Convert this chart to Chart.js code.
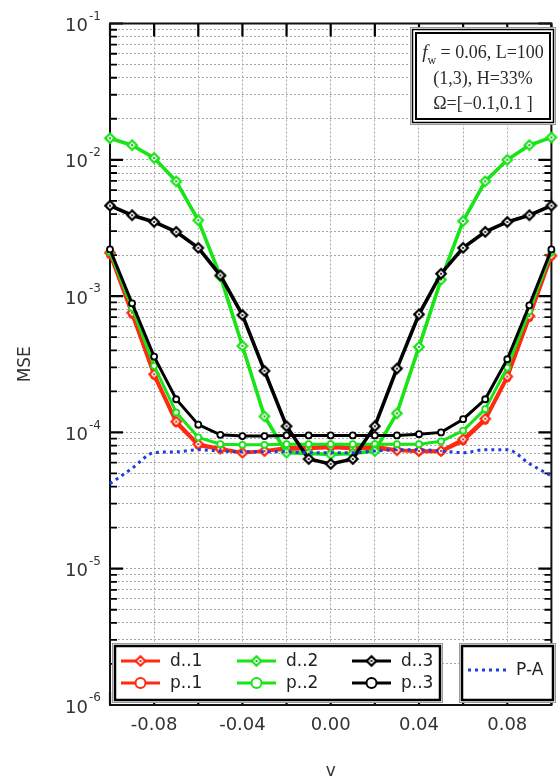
<!DOCTYPE html>
<html><head><meta charset="utf-8">
<script src="https://cdn.jsdelivr.net/npm/chart.js@4"></script>
<style>html,body{margin:0;padding:0;background:#fff;}canvas{display:block;}</style>
</head><body>
<canvas id="c" width="560" height="780" style="width:560px;height:780px"></canvas>
<script>
// ---------- data ----------
const xValues = [-0.10,-0.09,-0.08,-0.07,-0.06,-0.05,-0.04,-0.03,-0.02,-0.01,0.00,0.01,0.02,0.03,0.04,0.05,0.06,0.07,0.08,0.09,0.10];
const d1 = [2.08e-3,7.55e-4,2.67e-4,1.20e-4,8.2e-5,7.6e-5,7.1e-5,7.3e-5,7.7e-5,7.7e-5,7.9e-5,7.7e-5,7.9e-5,7.4e-5,7.3e-5,7.3e-5,8.9e-5,1.26e-4,2.57e-4,7.14e-4,1.98e-3];
const p1 = [2.00e-3,7.3e-4,2.6e-4,1.17e-4,8.0e-5,7.5e-5,7.1e-5,7.3e-5,7.5e-5,7.6e-5,7.7e-5,7.6e-5,7.6e-5,7.4e-5,7.2e-5,7.2e-5,8.6e-5,1.22e-4,2.5e-4,6.9e-4,1.95e-3];
const d2 = [1.44e-2,1.28e-2,1.03e-2,6.95e-3,3.6e-3,1.40e-3,4.31e-4,1.31e-4,7.1e-5,7.0e-5,6.9e-5,7.0e-5,7.3e-5,1.38e-4,4.24e-4,1.32e-3,3.55e-3,6.95e-3,1.0e-2,1.28e-2,1.46e-2];
const p2 = [2.1e-3,8.2e-4,3.08e-4,1.40e-4,9.2e-5,8.2e-5,8.1e-5,8.1e-5,8.2e-5,8.2e-5,8.2e-5,8.2e-5,8.2e-5,8.2e-5,8.2e-5,8.6e-5,1.03e-4,1.48e-4,2.99e-4,7.76e-4,2.1e-3];
const d3 = [4.61e-3,3.92e-3,3.50e-3,2.96e-3,2.26e-3,1.42e-3,7.26e-4,2.83e-4,1.11e-4,6.38e-5,5.87e-5,6.38e-5,1.11e-4,2.94e-4,7.35e-4,1.46e-3,2.26e-3,2.96e-3,3.50e-3,3.92e-3,4.61e-3];
const p3 = [2.2e-3,8.85e-4,3.6e-4,1.75e-4,1.14e-4,9.6e-5,9.4e-5,9.4e-5,9.5e-5,9.5e-5,9.5e-5,9.5e-5,9.5e-5,9.5e-5,9.7e-5,1.0e-4,1.25e-4,1.75e-4,3.44e-4,8.55e-4,2.2e-3];
const pa = [4.2e-5,5.45e-5,7.1e-5,7.2e-5,7.46e-5,7.3e-5,7.2e-5,7.2e-5,7.2e-5,7.1e-5,7.1e-5,7.1e-5,7.3e-5,7.46e-5,7.46e-5,7.3e-5,7.1e-5,7.46e-5,7.46e-5,5.9e-5,4.8e-5];

const seriesNames = ['d..1','p..1','d..2','p..2','d..3','p..3','P-A'];
const xTickValues = [-0.08,-0.04,0.00,0.04,0.08];
const xTickLabels = ['-0.08','-0.04','0.00','0.04','0.08'];
const xGridValues = [-0.10,-0.08,-0.06,-0.04,-0.02,0.00,0.02,0.04,0.06,0.08,0.10];
const yTickValues = [1e-6,1e-5,1e-4,1e-3,1e-2,1e-1];
const yTickExponents = ['-6','-5','-4','-3','-2','-1'];
const yMantissas = [1,2,3,4,5,6,7,8,9];
const xTitle = 'v';
const yTitle = 'MSE';
const annotationLines = ['= 0.06, L=100','(1,3), H=33%','\u03A9=[\u22120.1,0.1 ]'];

// ---------- styles ----------
const RED = '#ff2a10', GREEN = '#18e418', BLACK = '#000000', BLUE = '#1e3ee0';
const SANS = '"DejaVu Sans", Verdana, sans-serif';
const SERIF = '"Liberation Serif", "Times New Roman", serif';

function diamondImg(color, dot) {
  const c = document.createElement('canvas');
  c.width = 16; c.height = 16;
  const g = c.getContext('2d');
  g.beginPath(); g.moveTo(8, 3.3); g.lineTo(12.7, 8); g.lineTo(8, 12.7); g.lineTo(3.3, 8); g.closePath();
  g.fillStyle = '#fff'; g.fill();
  g.lineWidth = 2.3; g.strokeStyle = color; g.stroke();
  g.beginPath(); g.arc(8, 8, 1.1, 0, Math.PI * 2); g.fillStyle = dot; g.fill();
  return c;
}
const diaR = diamondImg(RED, '#a01808');
const diaG = diamondImg(GREEN, '#0a8a0a');
const diaK = diamondImg(BLACK, '#000');

const yGridValues = [];
for (let e = -6; e <= -2; e++) for (const m of yMantissas) yGridValues.push(m * Math.pow(10, e));
yGridValues.push(1e-1);

function pts(arr) { return xValues.map((x, i) => ({x: x, y: arr[i]})); }

function dDs(label, arr, color, img, order) {
  return {label, data: pts(arr), borderColor: color, backgroundColor: '#fff', borderWidth: 3.6,
    pointStyle: img, pointRadius: 5, order, clip: false, tension: 0};
}
function pDs(label, arr, color, order) {
  return {label, data: pts(arr), borderColor: color, backgroundColor: '#fff', borderWidth: 3,
    pointStyle: 'circle', pointRadius: 3, pointBorderWidth: 1.8, pointBackgroundColor: '#fff',
    pointBorderColor: color, order, clip: false, tension: 0};
}

const datasets = [
  dDs(seriesNames[0], d1, RED, diaR, 6),
  pDs(seriesNames[1], p1, RED, 7),
  dDs(seriesNames[2], d2, GREEN, diaG, 4),
  pDs(seriesNames[3], p2, GREEN, 5),
  dDs(seriesNames[4], d3, BLACK, diaK, 2),
  pDs(seriesNames[5], p3, BLACK, 3),
  {label: seriesNames[6], data: pts(pa), borderColor: BLUE, borderWidth: 3, borderDash: [3, 4],
   pointRadius: 0, order: 1, clip: false, tension: 0.3, cubicInterpolationMode: 'monotone'}
];

function legendMarker(ctx, kind, color, img, x, y) {
  if (kind === 'd') {
    ctx.drawImage(img, x - 8, y - 8, 16, 16);
  } else {
    ctx.beginPath(); ctx.arc(x, y, 5, 0, Math.PI * 2);
    ctx.fillStyle = '#fff'; ctx.fill();
    ctx.lineWidth = 2; ctx.strokeStyle = color; ctx.stroke();
  }
}
function legendBox(ctx, x0, y0, x1, y1) {
  ctx.save();
  ctx.fillStyle = '#fff'; ctx.fillRect(x0, y0, x1 - x0, y1 - y0);
  ctx.strokeStyle = '#999'; ctx.lineWidth = 1; ctx.strokeRect(x0 + 0.5, y0 + 0.5, x1 - x0 - 1, y1 - y0 - 1);
  ctx.strokeStyle = '#000'; ctx.lineWidth = 2.5; ctx.strokeRect(x0 + 3, y0 + 3, x1 - x0 - 6, y1 - y0 - 6);
  ctx.restore();
}

const deco = {
  id: 'deco',
  beforeDatasetsDraw(chart) {
    const ctx = chart.ctx, a = chart.chartArea, xs = chart.scales.x, ys = chart.scales.y;
    ctx.save();
    ctx.strokeStyle = '#000';
    // y ticks (inward, left & right)
    for (const v of yGridValues) {
      const py = ys.getPixelForValue(v);
      const major = Math.abs(Math.log10(v) - Math.round(Math.log10(v))) < 1e-9;
      const len = major ? 13 : 7;
      ctx.lineWidth = major ? 2.2 : 1.8;
      ctx.beginPath();
      ctx.moveTo(a.left, py); ctx.lineTo(a.left + len, py);
      ctx.moveTo(a.right, py); ctx.lineTo(a.right - len, py);
      ctx.stroke();
    }
    // x ticks (inward, top & bottom)
    ctx.lineWidth = 2.2;
    for (const v of xGridValues) {
      const px = xs.getPixelForValue(v);
      ctx.beginPath();
      ctx.moveTo(px, a.top); ctx.lineTo(px, a.top + 13);
      ctx.moveTo(px, a.bottom); ctx.lineTo(px, a.bottom - 13);
      ctx.stroke();
    }
    // frame
    ctx.lineWidth = 2;
    ctx.strokeStyle = '#111';
    ctx.strokeRect(a.left, a.top, a.right - a.left, a.bottom - a.top);
    ctx.restore();
  },
  afterDatasetsDraw(chart) {
    const ctx = chart.ctx, a = chart.chartArea, xs = chart.scales.x, ys = chart.scales.y;
    ctx.save();
    // ---- annotation box ----
    const bx0 = 410, by0 = 27, bx1 = 556, by1 = 125;
    ctx.fillStyle = '#fff'; ctx.fillRect(bx0, by0, bx1 - bx0, by1 - by0);
    ctx.strokeStyle = '#999'; ctx.lineWidth = 1; ctx.strokeRect(bx0 + 0.5, by0 + 0.5, bx1 - bx0 - 1, by1 - by0 - 1);
    ctx.strokeStyle = '#000'; ctx.lineWidth = 1.5; ctx.strokeRect(bx0 + 2.5, by0 + 2.5, bx1 - bx0 - 5, by1 - by0 - 5);
    ctx.lineWidth = 2; ctx.strokeRect(bx0 + 6, by0 + 6, bx1 - bx0 - 12, by1 - by0 - 12);
    const cx = (bx0 + bx1) / 2;
    ctx.fillStyle = '#2a2a2a'; ctx.textBaseline = 'middle';
    // line 1 : f_w = 0.06, L=100
    ctx.font = 'italic 19px ' + SERIF; const wf = ctx.measureText('f').width;
    ctx.font = '12px ' + SERIF; const ww = ctx.measureText('w').width;
    ctx.font = '18px ' + SERIF; const wr = ctx.measureText(' ' + annotationLines[0]).width;
    let sx = cx - (wf + ww + wr) / 2;
    ctx.textAlign = 'left';
    ctx.font = 'italic 19px ' + SERIF; ctx.fillText('f', sx, 53);
    ctx.font = '12px ' + SERIF; ctx.fillText('w', sx + wf, 61);
    ctx.font = '18px ' + SERIF; ctx.fillText(' ' + annotationLines[0], sx + wf + ww, 53);
    ctx.textAlign = 'center';
    ctx.fillText(annotationLines[1], cx, 79);
    ctx.fillText(annotationLines[2], cx, 104);

    // ---- legend box 1 ----
    legendBox(ctx, 112, 643, 443, 703);
    const cols = [121, 237, 352];
    const rows = [661, 683];
    const lcol = [RED, GREEN, BLACK];
    const imgs = [diaR, diaG, diaK];
    ctx.font = '17px ' + SANS; ctx.textAlign = 'left'; ctx.textBaseline = 'middle';
    for (let c = 0; c < 3; c++) {
      for (let r = 0; r < 2; r++) {
        const y = rows[r], x0 = cols[c], x1 = x0 + 39;
        ctx.strokeStyle = lcol[c]; ctx.lineWidth = 3; ctx.setLineDash([]);
        ctx.beginPath(); ctx.moveTo(x0, y); ctx.lineTo(x1, y); ctx.stroke();
        legendMarker(ctx, r === 0 ? 'd' : 'p', lcol[c], imgs[c], (x0 + x1) / 2, y);
        ctx.fillStyle = '#222';
        ctx.fillText(seriesNames[c * 2 + r], x1 + 10, y + 1);
      }
    }
    // ---- legend box 2 ----
    legendBox(ctx, 459, 643, 556, 703);
    ctx.strokeStyle = BLUE; ctx.lineWidth = 3; ctx.setLineDash([3, 4]);
    ctx.beginPath(); ctx.moveTo(468, 670); ctx.lineTo(507, 670); ctx.stroke();
    ctx.setLineDash([]);
    ctx.fillStyle = '#222'; ctx.fillText(seriesNames[6], 516, 671);

    // ---- tick labels ----
    ctx.fillStyle = '#333';
    ctx.font = '18px ' + SANS; ctx.textAlign = 'center'; ctx.textBaseline = 'middle';
    xTickValues.forEach((v, i) => ctx.fillText(xTickLabels[i], xs.getPixelForValue(v), 725));
    yTickValues.forEach((v, i) => {
      const py = ys.getPixelForValue(v);
      ctx.font = '18px ' + SANS; ctx.textAlign = 'right';
      ctx.fillText('10', 88, py + 3);
      ctx.font = '12px ' + SANS; ctx.textAlign = 'left';
      ctx.fillText(yTickExponents[i], 89, py - 7);
    });
    // ---- axis titles ----
    ctx.font = '17px ' + SANS; ctx.textAlign = 'center';
    ctx.fillText(xTitle, (a.left + a.right) / 2, 772);
    ctx.save();
    ctx.translate(26, (a.top + a.bottom) / 2);
    ctx.rotate(-Math.PI / 2);
    ctx.fillText(yTitle, 0, 0);
    ctx.restore();
    ctx.restore();
  }
};

new Chart(document.getElementById('c'), {
  type: 'line',
  data: {datasets},
  options: {
    responsive: false, animation: false, devicePixelRatio: 1,
    layout: {padding: {left: 110, right: 0, top: 23.5, bottom: 75}},
    plugins: {legend: {display: false}, tooltip: {enabled: false}},
    scales: {
      x: {
        type: 'linear', min: -0.1, max: 0.1,
        afterBuildTicks: s => { s.ticks = xGridValues.map(v => ({value: v})); },
        afterFit: s => { s.height = 0; },
        ticks: {display: false},
        grid: {color: '#a8a8a8', lineWidth: 1, drawTicks: false},
        border: {display: false, dash: [2, 2]}
      },
      y: {
        type: 'logarithmic', min: 1e-6, max: 1e-1,
        afterBuildTicks: s => { s.ticks = yGridValues.map(v => ({value: v})); },
        afterFit: s => { s.width = 0; },
        ticks: {display: false},
        grid: {color: '#a8a8a8', lineWidth: 1, drawTicks: false},
        border: {display: false, dash: [2, 2]}
      }
    }
  },
  plugins: [deco]
});
</script>
</body></html>
